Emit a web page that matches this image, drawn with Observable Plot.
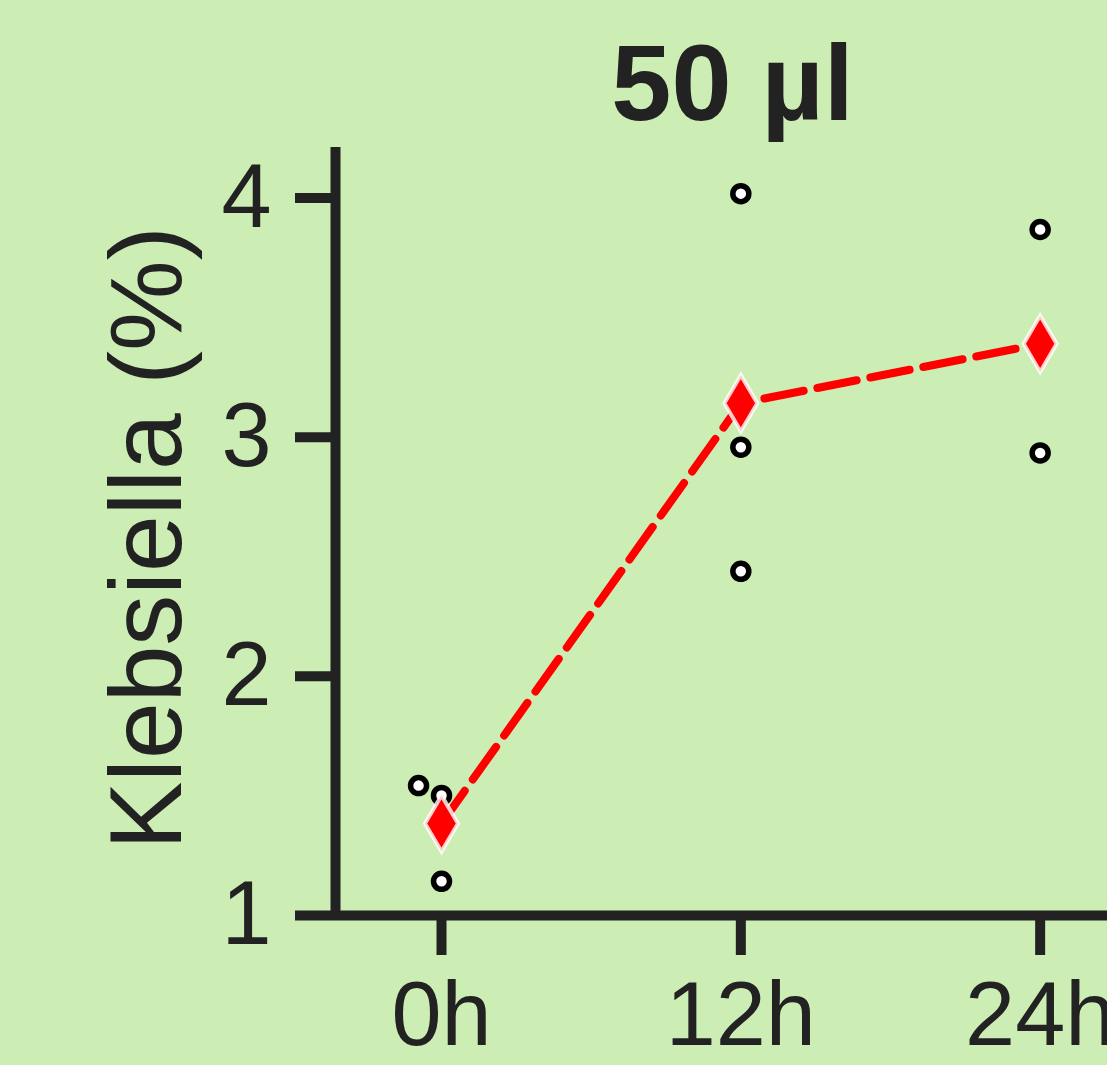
<!DOCTYPE html>
<html><head><meta charset="utf-8">
<script src="https://cdn.jsdelivr.net/npm/d3@7"></script>
<script src="https://cdn.jsdelivr.net/npm/@observablehq/plot@0.6"></script>
<style>
html,body{margin:0;padding:0;background:#CCEDB4;}
#chart{width:1107px;height:1065px;overflow:hidden;}
</style></head><body><div id="chart"></div>
<script>
const title = "50 µl";
const yLabel = "Klebsiella (%)";
const timeTicks = [0, 12, 24];
const timeTickLabels = ["0h", "12h", "24h"];
const yTicks = [1, 2, 3, 4];
const yTickLabels = ["1", "2", "3", "4"];
// individual replicates (hour, value)
const pointHours = [-0.92, 0, 0, 12, 12, 12, 24, 24];
const pointValues = [1.543, 1.502, 1.143, 4.018, 2.958, 2.439, 3.868, 2.934];
// group means (red diamonds)
const meanHours = [0, 12, 24];
const meanValues = [1.385, 3.142, 3.390];

const points = pointHours.map((h, i) => ({hour: h, value: pointValues[i]}));
const means = meanHours.map((h, i) => ({hour: h, value: meanValues[i]}));

const tallDiamond = {
  draw(context, size) {
    const r = Math.sqrt(size / Math.PI);
    const w = r, h = r * 1.7;
    context.moveTo(0, -h); context.lineTo(w, 0); context.lineTo(0, h); context.lineTo(-w, 0); context.closePath();
  }
};
const fmtX = d => timeTickLabels[timeTicks.indexOf(d)];
const fmtY = d => yTickLabels[yTicks.indexOf(d)];
const xMin = -4.25;

const chart = Plot.plot({
  width: 1107, height: 1065,
  marginLeft: 335, marginRight: 0, marginTop: 152, marginBottom: 150,
  style: {background: "transparent", fontFamily: "'Liberation Sans', Arial, sans-serif", color: "#222", overflow: "visible"},
  x: {domain: [xMin, 26.7]},
  y: {domain: [1, 4.19]},
  marks: [
    Plot.axisX({ticks: timeTicks, tickFormat: fmtX, tickSize: 40, tickPadding: 26, fontSize: 90, strokeWidth: 10, stroke: "#222", label: null}),
    Plot.axisY({ticks: yTicks, tickFormat: fmtY, tickSize: 40, tickPadding: 24, fontSize: 90, strokeWidth: 10, stroke: "#222", label: null}),
    Plot.ruleY([1], {stroke: "#222", strokeWidth: 10}),
    Plot.ruleX([xMin], {stroke: "#222", strokeWidth: 10, strokeLinecap: "square"}),
    Plot.dot(points, {x: "hour", y: "value", r: 8, stroke: "#000", strokeWidth: 5.5, fill: "white"}),
    Plot.line(means, {x: "hour", y: "value", stroke: "#FF0000", strokeWidth: 8, strokeDasharray: "40,14"}),
    Plot.dot(means, {x: "hour", y: "value", symbol: tallDiamond, r: 16.5, fill: "#FF0000", stroke: "white", strokeWidth: 4, strokeOpacity: 0.8}),
    Plot.text([title], {frameAnchor: "top", dx: 11, dy: -33, lineAnchor: "bottom", fontSize: 108, fontWeight: "bold", fill: "#222"}),
    Plot.text([yLabel], {frameAnchor: "left", textAnchor: "middle", rotate: -90, dx: -155, dy: 4, lineAnchor: "bottom", fontSize: 102, fill: "#222"})
  ]
});
document.getElementById("chart").appendChild(chart);
</script></body></html>
